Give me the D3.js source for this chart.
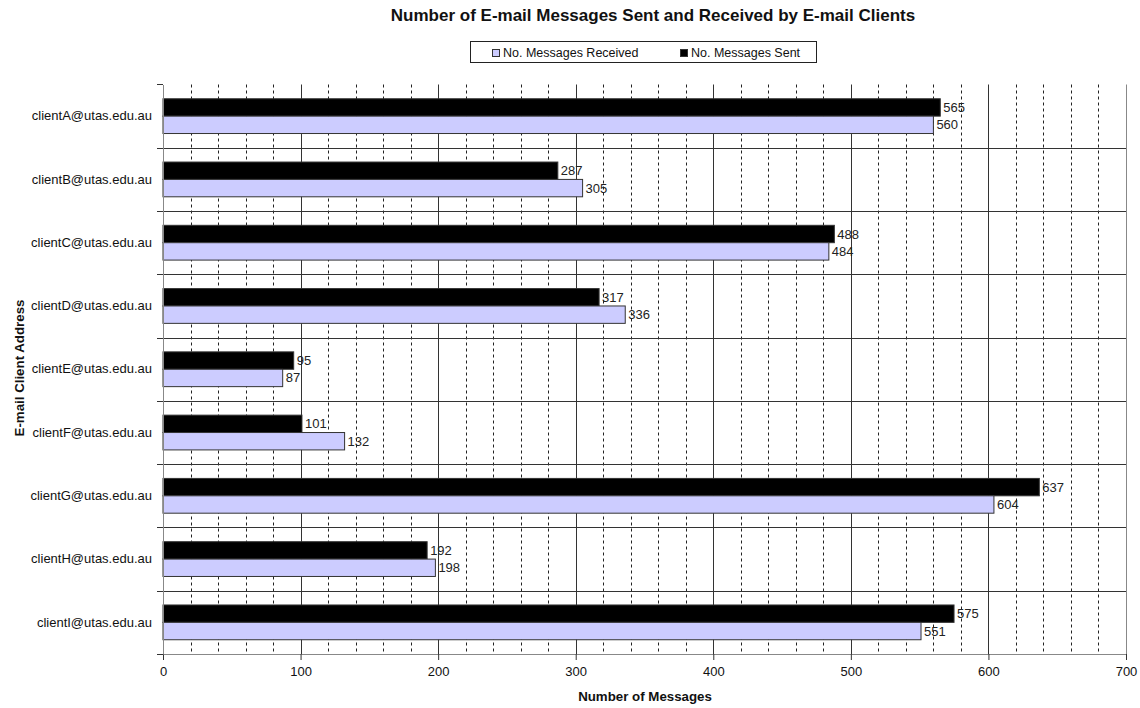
<!DOCTYPE html>
<html><head><meta charset="utf-8">
<script src="https://cdn.jsdelivr.net/npm/d3@7"></script>
<style>body{margin:0;background:#fff;font-family:"Liberation Sans",Arial,sans-serif}</style>
</head><body><svg id="c" width="1140" height="708"></svg>
<script>
const categories = ["clientA@utas.edu.au","clientB@utas.edu.au","clientC@utas.edu.au","clientD@utas.edu.au","clientE@utas.edu.au","clientF@utas.edu.au","clientG@utas.edu.au","clientH@utas.edu.au","clientI@utas.edu.au"];
const sent = [565,287,488,317,95,101,637,192,575];
const received = [560,305,484,336,87,132,604,198,551];
const xTicks = [0,100,200,300,400,500,600,700];
const seriesNames = ["No. Messages Received","No. Messages Sent"];

const svg = d3.select("#c");
const L=163,R=1126,T=84.5,B=654;
const x = d3.scaleLinear().domain([0,700]).range([L,R]);
const y = d3.scaleBand().domain(categories).range([T,B]);
const inner = d3.scaleBand().domain(["sent","received"]).range([0,y.bandwidth()]).paddingOuter(0.82).paddingInner(0);

// minor dashed gridlines
const minor = d3.range(20,700,20).filter(v=>v%100!==0);
svg.append("g").selectAll("line").data(minor).join("line")
  .attr("x1",d=>Math.round(x(d))+0.5).attr("x2",d=>Math.round(x(d))+0.5)
  .attr("y1",T).attr("y2",B).attr("stroke","#222").attr("stroke-dasharray","3,3");
// major gridlines
svg.append("g").selectAll("line").data(xTicks.slice(1)).join("line")
  .attr("x1",d=>Math.round(x(d))+0.5).attr("x2",d=>Math.round(x(d))+0.5)
  .attr("y1",T).attr("y2",B).attr("stroke",d=>d===700?"#888":"#333");
// horizontal category separators
svg.append("g").selectAll("line").data(categories.slice(1)).join("line")
  .attr("x1",L-6).attr("x2",R).attr("y1",d=>Math.round(y(d))+0.5).attr("y2",d=>Math.round(y(d))+0.5)
  .attr("stroke","#333");

// bars
const g = svg.append("g");
categories.forEach((c,i)=>{
  g.append("rect").attr("x",x(0)).attr("y",y(c)+inner("sent")).attr("width",x(sent[i])-x(0)).attr("height",inner.bandwidth())
    .attr("fill","#000").attr("stroke","#333").attr("stroke-width",1);
  g.append("rect").attr("x",x(0)).attr("y",y(c)+inner("received")).attr("width",x(received[i])-x(0)).attr("height",inner.bandwidth())
    .attr("fill","#CCCCFF").attr("stroke","#333").attr("stroke-width",1);
  g.append("text").attr("x",x(sent[i])+3).attr("y",y(c)+inner("sent")+inner.bandwidth()/2).attr("dy","0.35em")
    .attr("font-size",13).attr("fill","#222").text(sent[i]);
  g.append("text").attr("x",x(received[i])+3).attr("y",y(c)+inner("received")+inner.bandwidth()/2).attr("dy","0.35em")
    .attr("font-size",13).attr("fill","#222").text(received[i]);
});

// axes
const xAxis = svg.append("g").attr("transform",`translate(0,${B})`)
  .call(d3.axisBottom(x).tickValues(xTicks).tickSize(6).tickPadding(7).tickSizeOuter(0));
xAxis.select(".domain").attr("stroke","#888");
xAxis.selectAll(".tick line").attr("stroke","#333");
xAxis.selectAll("text").attr("font-size",13).attr("font-family","Liberation Sans, Arial").attr("fill","#111");

const yAxis = svg.append("g").attr("transform",`translate(${L},0)`)
  .call(d3.axisLeft(y).tickSize(0).tickPadding(11));
yAxis.select(".domain").attr("stroke","#888");
yAxis.selectAll("text").attr("font-size",13).attr("font-family","Liberation Sans, Arial").attr("fill","#111");
svg.append("line").attr("x1",L-6).attr("x2",L).attr("y1",B+0.5).attr("y2",B+0.5).attr("stroke","#333");
svg.append("line").attr("x1",L-6).attr("x2",L).attr("y1",T).attr("y2",T).attr("stroke","#333");

// titles
svg.append("text").attr("x",653).attr("y",21).attr("text-anchor","middle").attr("font-weight","bold").attr("font-size",17).attr("fill","#111")
  .text("Number of E-mail Messages Sent and Received by E-mail Clients");
svg.append("text").attr("x",645).attr("y",701).attr("text-anchor","middle").attr("font-weight","bold").attr("font-size",13.3).attr("fill","#111")
  .text("Number of Messages");
svg.append("text").attr("transform","translate(24,368) rotate(-90)").attr("text-anchor","middle").attr("font-weight","bold").attr("font-size",13.3).attr("fill","#111")
  .text("E-mail Client Address");

// legend
const lg = svg.append("g");
lg.append("rect").attr("x",470.5).attr("y",41.5).attr("width",346).attr("height",21).attr("fill","#fff").attr("stroke","#222");
const lcol = ["#CCCCFF","#000"];
const lx = [492,680];
seriesNames.forEach((n,i)=>{
  lg.append("rect").attr("x",lx[i]+0.5).attr("y",49.5).attr("width",7).attr("height",7).attr("fill",lcol[i]).attr("stroke","#333");
  lg.append("text").attr("x",lx[i]+11).attr("y",57).attr("font-size",12.5).attr("fill","#111").text(n);
});
</script></body></html>
